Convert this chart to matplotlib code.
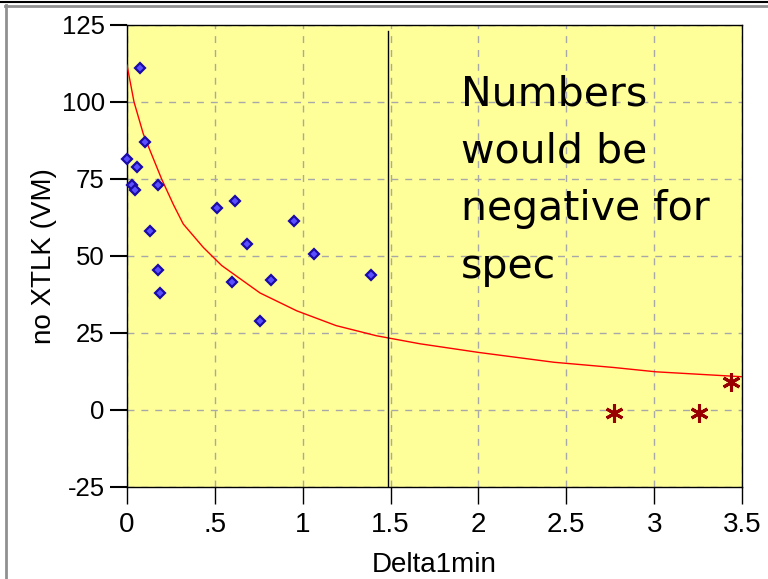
import matplotlib.pyplot as plt
from matplotlib.lines import Line2D

# measured points (blue diamonds)
pts_x = [0.074, 0.102, 0.0, 0.059, 0.030, 0.044, 0.175, 0.131, 0.175, 0.190,
         0.510, 0.613, 0.685, 0.597, 0.818, 0.759, 0.949, 1.066, 1.387]
pts_y = [111.2, 87.1, 81.4, 78.9, 73.0, 71.3, 73.0, 58.0, 45.5, 38.1,
         65.6, 68.0, 53.9, 41.4, 42.3, 29.0, 61.4, 50.5, 43.9]

# spec points (red stars)
spec_x = [2.773, 3.253, 3.440]
spec_y = [-1.1, -1.1, 9.2]

# fitted curve
fit_x = [0, 0.04, 0.093, 0.197, 0.264, 0.32, 0.434, 0.539, 0.757, 0.966,
         1.19, 1.42, 1.667, 2.0, 2.43, 2.77, 3.01, 3.5]
fit_y = [112, 100, 89.6, 75, 66.7, 60.4, 52.8, 46.9, 38.0, 32.2,
         27.4, 24.1, 21.5, 18.7, 15.5, 13.8, 12.4, 10.8]

limit_x = 1.485

xticks = [0, 0.5, 1, 1.5, 2, 2.5, 3, 3.5]
xticklabels = ["0", ".5", "1", "1.5", "2", "2.5", "3", "3.5"]
yticks = [-25, 0, 25, 50, 75, 100, 125]

fig = plt.figure(figsize=(7.68, 5.79), dpi=100)
ax = fig.add_axes([127/768, 1-487/579, (742-127)/768, (487-25)/579])
ax.set_facecolor("#ffff99")

ax.plot(fit_x, fit_y, color="red", lw=1, zorder=3)
ax.plot(pts_x, pts_y, ls="none", marker="D", ms=5, mfc="#5a50ff",
        mec="#1a0aa8", mew=1.6, zorder=4, clip_on=False)
ax.plot(spec_x, spec_y, ls="none", marker=(6, 2, 0), ms=13, mec="#990000",
        mew=2.2, zorder=4)
ax.plot([limit_x, limit_x], [-25, 123], color="black", lw=1, zorder=3)

# annotation, placed in figure pixels (inches at dpi 100)
ax.text(461/100, (579-74)/100, "Numbers\nwould be\nnegative for\nspec",
        transform=fig.dpi_scale_trans, fontsize=29.5, family="DejaVu Sans",
        ha="left", va="top", linespacing=1.57)

ax.set_xlim(0, 3.5)
ax.set_ylim(-25, 125)
ax.set_xticks(xticks)
ax.set_xticklabels(xticklabels, fontsize=20, family="Liberation Sans")
ax.set_yticks(yticks)
ax.set_yticklabels([str(v) for v in yticks], fontsize=18.5,
                   family="Liberation Sans")
ax.tick_params(direction="out", length=12, width=1.5, color="black", pad=4)
ax.tick_params(axis="x", width=1, pad=6)
ax.grid(True, color="#a8a8a8", ls=(0, (5, 5)), lw=1)
for s in ax.spines.values():
    s.set_linewidth(1)
    s.set_color("black")

ax.set_xlabel("Delta1min", fontsize=20, family="Liberation Sans", labelpad=10)
ax.set_ylabel("no XTLK (VM)", fontsize=20, family="Liberation Sans", labelpad=3)

# window frame
fig.add_artist(Line2D([0, 1], [1-2/579, 1-2/579], color="black", lw=1.5))
fig.add_artist(Line2D([5/768, 1], [1-5.5/579, 1-5.5/579], color="#909090", lw=2))
fig.add_artist(Line2D([6/768, 6/768], [0, 1-5/579], color="#909090", lw=2))

fig.savefig("out.png", dpi=100)
